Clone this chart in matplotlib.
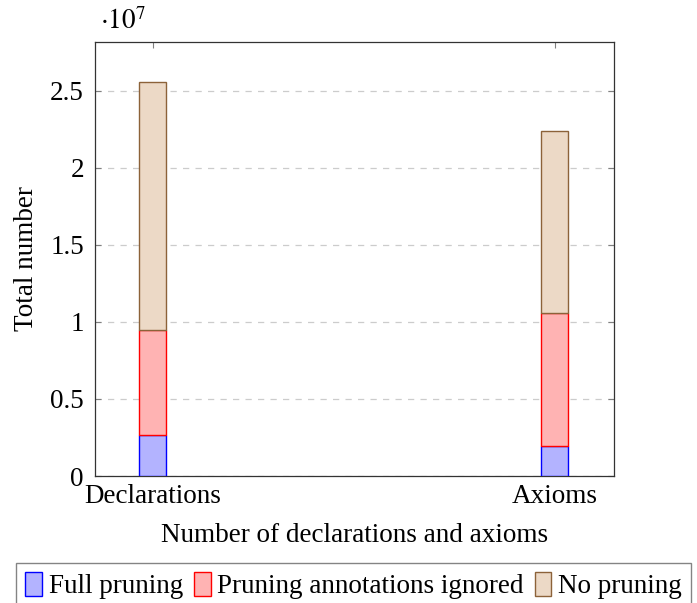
import numpy as np
import matplotlib
matplotlib.use('Agg')
import matplotlib.pyplot as plt
from matplotlib.ticker import FuncFormatter

plt.rcParams['font.family'] = ['Liberation Serif', 'DejaVu Serif']
plt.rcParams['mathtext.fontset'] = 'stix'

categories = ['Declarations', 'Axioms']
series = ['Full pruning', 'Pruning annotations ignored', 'No pruning']
# segment heights, units of 1e7 (stacked)
full_pruning = [0.268, 0.197]
annotations_ignored = [0.678, 0.863]
no_pruning = [1.614, 1.182]
yticks = [0, 0.5, 1, 1.5, 2, 2.5]

fills = ['#b3b3ff', '#ffb3b3', '#ecd9c6']
edges = ['#0000ff', '#ff0000', '#8c6239']
fs = 19.5

fig = plt.figure(figsize=(6.97, 6.03), dpi=100)
ax = fig.add_axes([95/697, 1-476/603, 519/697, 434/603])

x = np.arange(len(categories))
bottom = np.zeros(len(categories))
for vals, name, fc, ec in zip([full_pruning, annotations_ignored, no_pruning], series, fills, edges):
    ax.bar(x, vals, width=0.067, bottom=bottom, color=fc, edgecolor=ec, linewidth=1.0, label=name, zorder=3)
    bottom += np.array(vals)

ax.set_xlim(-0.144, 1.147)
ax.set_ylim(0, 2.818)
ax.set_xticks(x)
ax.set_xticklabels(categories)
ax.set_yticks(yticks)
ax.yaxis.set_major_formatter(FuncFormatter(lambda v, p: ('%g' % v)))
ax.tick_params(direction='in', length=4, color='#808080', labelsize=fs, top=True, right=True)
ax.tick_params(axis='x', pad=6)
ax.tick_params(axis='y', pad=8)
ax.grid(axis='y', linestyle=(0, (5, 5)), color='#cccccc', linewidth=0.9, zorder=0)
for s in ax.spines.values():
    s.set_color('#333333')
    s.set_linewidth(0.9)

ax.set_ylabel('Total number', fontsize=fs, labelpad=8)
ax.set_xlabel('Number of declarations and axioms', fontsize=fs, labelpad=10)
fig.text(100/697, 1-22/603, r'$\cdot 10^{7}$', fontsize=fs, va='center', ha='left')

leg = fig.legend(loc='upper center', bbox_to_anchor=(353.5/697, 1-563/603), ncol=3, fontsize=fs,
                 frameon=True, fancybox=False, edgecolor='#666666', handlelength=0.62, handleheight=1.0,
                 handletextpad=0.25, columnspacing=0.4, borderpad=0.32, borderaxespad=0)
leg.get_frame().set_linewidth(1.0)

fig.savefig('out.png', dpi=100)
